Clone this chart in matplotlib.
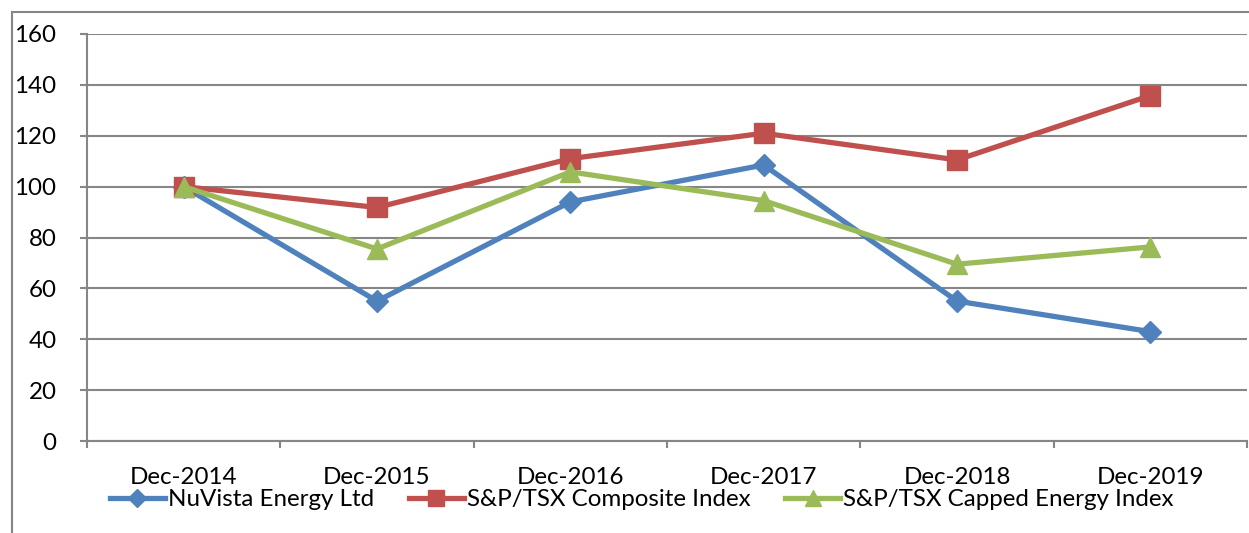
import matplotlib
matplotlib.use('Agg')
import matplotlib.pyplot as plt
from matplotlib.patches import Rectangle
import numpy as np

# Index values (Dec-2014 = 100)
periods = ['Dec-2014', 'Dec-2015', 'Dec-2016', 'Dec-2017', 'Dec-2018', 'Dec-2019']
nuvista = [100, 55, 94, 108.5, 55, 43]
composite = [100, 91.8, 111, 121, 110.5, 135.8]
energy = [100, 75.5, 105.8, 94.5, 69.5, 76.3]
yticks = [0, 20, 40, 60, 80, 100, 120, 140, 160]

plt.rcParams['font.family'] = ['Lato', 'DejaVu Sans']
FS = 17.4

W, H = 1249, 533
fig = plt.figure(figsize=(W / 100, H / 100), dpi=100)

# outer chart border (left/top visible)
fig.patches.append(Rectangle((12 / W, -0.1), 1.2, 1 - 12 / H + 0.1,
                             transform=fig.transFigure, fill=False,
                             edgecolor='#868686', linewidth=1.5))

ax = fig.add_axes([87 / W, 1 - 441 / H, (1247 - 87) / W, (441 - 34) / H])

x = np.arange(len(periods))
lw = 3.8
ax.plot(x, nuvista, color='#4F81BD', linewidth=lw, marker='D', markersize=11,
        label='NuVista Energy Ltd', zorder=3)
ax.plot(x, composite, color='#C0504D', linewidth=lw, marker='s', markersize=14,
        label='S&P/TSX Composite Index', zorder=3)
ax.plot(x, energy, color='#9BBB59', linewidth=lw, marker='^', markersize=14,
        label='S&P/TSX Capped Energy Index', zorder=3)

ax.set_xlim(-0.5, len(periods) - 0.5)
ax.set_ylim(0, 160)
ax.set_yticks(yticks)
ax.set_yticklabels([str(v) for v in yticks])
ax.grid(True, axis='y', color='#868686', linewidth=1.5)
ax.set_axisbelow(True)

ax.set_xticks(np.arange(-0.5, len(periods)), minor=False)
ax.set_xticklabels([])
ax.set_xticks(x, minor=True)
ax.set_xticklabels(periods, minor=True)

for s in ['top', 'right']:
    ax.spines[s].set_visible(False)
for s in ['left', 'bottom']:
    ax.spines[s].set_color('#868686')
    ax.spines[s].set_linewidth(1.5)

ax.tick_params(axis='y', length=5, width=1.5, color='#868686', pad=17,
               labelsize=FS)
ax.tick_params(axis='x', which='major', length=5, width=1.5, color='#868686')
ax.tick_params(axis='x', which='minor', length=0, pad=19, labelsize=FS)

fig.legend(loc='center left', bbox_to_anchor=(110 / W, 1 - 500 / H), ncol=3,
           frameon=False, fontsize=FS, handlelength=2.27, handletextpad=0.12,
           columnspacing=1.45, borderaxespad=0, borderpad=0, markerscale=0.85)

fig.savefig('out.png', dpi=100)
